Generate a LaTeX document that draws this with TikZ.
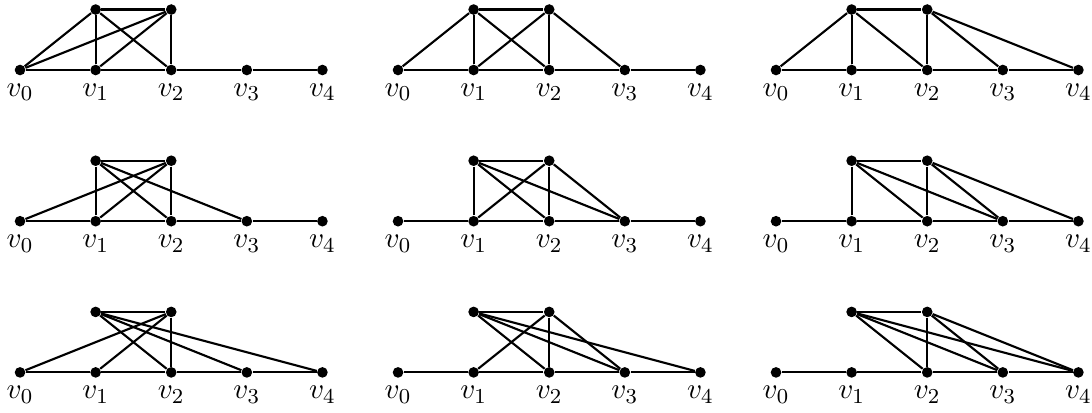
\documentclass[tikz,border=0pt]{standalone}
\usepackage{amsmath,amssymb}
\usepackage{tikz}
\usetikzlibrary{positioning, calc}

\begin{document}
\begin{tikzpicture}[
    dot/.style={circle,fill=black,inner sep=0pt,minimum size=4pt},
    edge/.style={black,thick},
    vlabel/.style={font=\fontsize{11pt}{13pt}\selectfont,label distance=-0.5pt}
  ]
    \useasboundingbox (-0.265,-4.524) rectangle (14.18,0.926);
    % row r: top-left vertex joins v_r..v_{r+2}, column c: top-right vertex joins v_c..v_{c+2}
    \foreach \r in {0,1,2} {
      \foreach \c in {0,1,2} {
        \begin{scope}[shift={(5*\c,-2*\r)}]
          \foreach \i in {0,...,4}
            \node[dot,label={[vlabel]below:{$v_{\i}$}}] (g\r\c-\i) at (\i,0) {};
          \node[dot] (g\r\c-a) at (1,0.8) {};
          \node[dot] (g\r\c-b) at (2,0.8) {};
          \draw[edge] (g\r\c-0) -- (g\r\c-1) -- (g\r\c-2) -- (g\r\c-3) -- (g\r\c-4);
          \draw[edge] (g\r\c-a) -- (g\r\c-b);
          \foreach \k in {0,1,2} {
            \pgfmathtruncatemacro\ia{\r+\k}
            \pgfmathtruncatemacro\ib{\c+\k}
            \draw[edge] (g\r\c-a) -- (g\r\c-\ia);
            \draw[edge] (g\r\c-b) -- (g\r\c-\ib);
          }
        \end{scope}
      }
    }
  \end{tikzpicture}
\end{document}
